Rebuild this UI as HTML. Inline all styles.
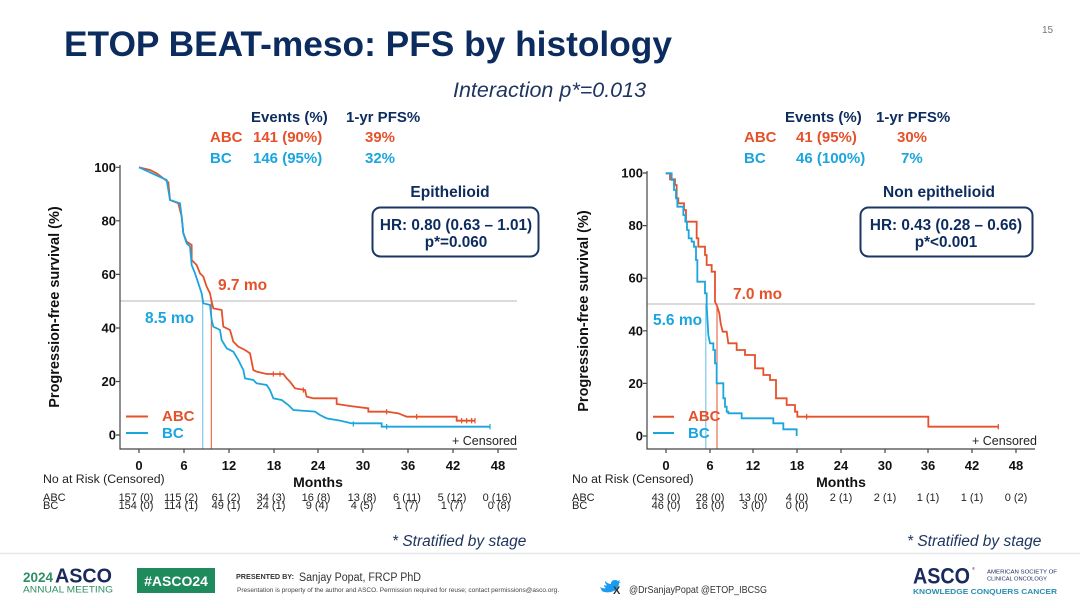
<!DOCTYPE html>
<html><head><meta charset="utf-8"><style>
html,body{margin:0;padding:0;background:#fff;}
svg{display:block;font-family:"Liberation Sans",Arial,sans-serif;}
</style></head><body>
<svg width="1080" height="608" viewBox="0 0 1080 608" xmlns="http://www.w3.org/2000/svg">
<rect width="1080" height="608" fill="#fff"/>
<!-- Title -->
<text x="64" y="56" font-size="35.3" font-weight="bold" fill="#0c2b5e">ETOP BEAT-meso: PFS by histology</text>
<text x="1042" y="33" font-size="10" fill="#777">15</text>
<text x="453" y="97" font-size="21.5" font-style="italic" fill="#1f3560">Interaction p*=0.013</text>

<!-- Left events table -->
<g font-size="15" font-weight="bold">
<text x="251" y="122" fill="#0c2b5e">Events (%)</text>
<text x="346" y="122" fill="#0c2b5e">1-yr PFS%</text>
<text x="210" y="142" fill="#e5512b">ABC</text>
<text x="253" y="142" fill="#e5512b">141 (90%)</text>
<text x="365" y="142" fill="#e5512b">39%</text>
<text x="210" y="163" fill="#1ba5de">BC</text>
<text x="253" y="163" fill="#1ba5de">146 (95%)</text>
<text x="365" y="163" fill="#1ba5de">32%</text>
<!-- Right events table -->
<text x="785" y="122" fill="#0c2b5e">Events (%)</text>
<text x="876" y="122" fill="#0c2b5e">1-yr PFS%</text>
<text x="744" y="142" fill="#e5512b">ABC</text>
<text x="796" y="142" fill="#e5512b">41 (95%)</text>
<text x="897" y="142" fill="#e5512b">30%</text>
<text x="744" y="163" fill="#1ba5de">BC</text>
<text x="796" y="163" fill="#1ba5de">46 (100%)</text>
<text x="901" y="163" fill="#1ba5de">7%</text>
</g>

<!-- ================= LEFT CHART ================= -->
<line x1="120" y1="301" x2="517" y2="301" stroke="#c4c4c4" stroke-width="1.2"/>
<line x1="202.7" y1="301" x2="202.7" y2="449" stroke="#7cc8ea" stroke-width="1.2"/>
<line x1="211.3" y1="301" x2="211.3" y2="449" stroke="#e5512b" stroke-width="1"/>
<g stroke="#444" stroke-width="1.2" fill="none">
<path d="M120,165 V449 H517"/>
<path d="M116,167.3H120M116,220.8H120M116,274.4H120M116,328H120M116,381.5H120M116,435H120"/>
<path d="M139,449V453M184,449V453M229,449V453M274,449V453M318,449V453M363,449V453M408,449V453M453,449V453M498,449V453"/>
</g>
<g font-size="13" font-weight="bold" fill="#111" text-anchor="end">
<text x="116" y="172">100</text><text x="116" y="225.5">80</text><text x="116" y="279">60</text>
<text x="116" y="332.5">40</text><text x="116" y="386">20</text><text x="116" y="439.5">0</text>
</g>
<text transform="translate(59,307) rotate(-90)" font-size="14.5" font-weight="bold" fill="#111" text-anchor="middle">Progression-free survival (%)</text>
<g font-size="13" font-weight="bold" fill="#111" text-anchor="middle">
<text x="139" y="470">0</text><text x="184" y="470">6</text><text x="229" y="470">12</text><text x="274" y="470">18</text><text x="318" y="470">24</text><text x="363" y="470">30</text><text x="408" y="470">36</text><text x="453" y="470">42</text><text x="498" y="470">48</text>
<text x="318" y="487" font-size="14">Months</text>
</g>
<g transform="translate(40,150) scale(0.33333)" fill="none" stroke-width="1.8">
<path vector-effect="non-scaling-stroke" stroke="#e5512b" d="M297,52 L330,60 L350,70 L370,85 L385,97 L390,150 L415,160 L425,200 L430,250 L440,275 L455,285 L455,330 L470,345 L480,370 L490,380 L500,410 L510,430 L515,455 L520,475 L545,480 L550,530 L570,540 L580,575 L595,590 L615,600 L630,610 L640,660 L650,665 L680,672 L730,672 L740,685 L750,695 L765,715 L795,720 L800,740 L820,745 H890 V762 L930,768 L985,775 V785 H1040 L1075,790 L1100,800 H1250 V812 H1305"/>
<path vector-effect="non-scaling-stroke" stroke="#1ba5de" d="M297,52 L380,90 L390,150 L420,160 L425,200 L430,250 L440,280 L450,290 L455,345 L465,370 L475,400 L485,430 L490,460 L510,465 L515,510 L520,530 L540,540 L545,570 L560,595 L580,605 L595,630 L610,660 L615,685 L640,690 L650,700 L680,705 L690,720 L700,745 L725,750 L745,765 L760,780 L825,785 L840,795 L860,805 L900,812 L935,820 H1025 V830 H1350"/>
<path vector-effect="non-scaling-stroke" stroke="#e5512b" stroke-width="1.2" d="M700,664V680M720,664V680M790,712V728M1040,777V793M1130,792V808M1265,804V820M1280,804V820M1295,804V820M1305,804V820"/>
<path vector-effect="non-scaling-stroke" stroke="#1ba5de" stroke-width="1.2" d="M940,814V830M1040,822V838M1350,822V838"/>
</g>
<g font-size="15.5" font-weight="bold">
<text x="218" y="290" fill="#e5512b">9.7 mo</text>
<text x="145" y="323" fill="#1ba5de">8.5 mo</text>
<text x="450" y="197" fill="#0c2b5e" text-anchor="middle">Epithelioid</text>
</g>
<rect x="372.5" y="207.5" width="166" height="49" rx="8" fill="#fff" stroke="#1b3565" stroke-width="2"/>
<g font-size="15.3" font-weight="bold" fill="#0c2b5e" text-anchor="middle">
<text x="456" y="230">HR: 0.80 (0.63 – 1.01)</text>
<text x="456" y="247">p*=0.060</text>
</g>
<line x1="126" y1="416.5" x2="148" y2="416.5" stroke="#e5512b" stroke-width="2"/>
<line x1="126" y1="433" x2="148" y2="433" stroke="#1ba5de" stroke-width="2"/>
<text x="162" y="421" font-size="15" font-weight="bold" fill="#e5512b">ABC</text>
<text x="162" y="438" font-size="15" font-weight="bold" fill="#1ba5de">BC</text>
<text x="452" y="445" font-size="12.5" fill="#222">+ Censored</text>

<!-- Left at risk -->
<text x="43" y="483" font-size="12.3" fill="#222">No at Risk (Censored)</text>
<g font-size="11" fill="#222">
<text x="43" y="501">ABC</text><text x="43" y="509">BC</text>
</g>
<g font-size="11" fill="#222" text-anchor="middle">
<text x="136" y="501">157 (0)</text><text x="181" y="501">115 (2)</text><text x="226" y="501">61 (2)</text><text x="271" y="501">34 (3)</text><text x="316" y="501">16 (8)</text><text x="362" y="501">13 (8)</text><text x="407" y="501">6 (11)</text><text x="452" y="501">5 (12)</text><text x="497" y="501">0 (16)</text>
<text x="136" y="509">154 (0)</text><text x="181" y="509">114 (1)</text><text x="226" y="509">49 (1)</text><text x="271" y="509">24 (1)</text><text x="317" y="509">9 (4)</text><text x="362" y="509">4 (5)</text><text x="407" y="509">1 (7)</text><text x="452" y="509">1 (7)</text><text x="499" y="509">0 (8)</text>
</g>
<text x="392" y="546" font-size="15.5" font-style="italic" fill="#1f3560">* Stratified by stage</text>

<!-- ================= RIGHT CHART ================= -->
<line x1="647" y1="304" x2="1035" y2="304" stroke="#c4c4c4" stroke-width="1.2"/>
<line x1="705.8" y1="304" x2="705.8" y2="449" stroke="#7cc8ea" stroke-width="1.2"/>
<line x1="717" y1="304" x2="717" y2="449" stroke="#e5512b" stroke-width="1"/>
<g stroke="#444" stroke-width="1.2" fill="none">
<path d="M647,171 V449 H1035"/>
<path d="M643,173H647M643,225.6H647M643,278.2H647M643,330.8H647M643,383.4H647M643,436H647"/>
<path d="M666,449V453M710,449V453M753,449V453M797,449V453M841,449V453M885,449V453M928,449V453M972,449V453M1016,449V453"/>
</g>
<g font-size="13" font-weight="bold" fill="#111" text-anchor="end">
<text x="643" y="177.5">100</text><text x="643" y="230">80</text><text x="643" y="282.7">60</text>
<text x="643" y="335.3">40</text><text x="643" y="388">20</text><text x="643" y="440.5">0</text>
</g>
<text transform="translate(588,311) rotate(-90)" font-size="14.5" font-weight="bold" fill="#111" text-anchor="middle">Progression-free survival (%)</text>
<g font-size="13" font-weight="bold" fill="#111" text-anchor="middle">
<text x="666" y="470">0</text><text x="710" y="470">6</text><text x="753" y="470">12</text><text x="797" y="470">18</text><text x="841" y="470">24</text><text x="885" y="470">30</text><text x="928" y="470">36</text><text x="972" y="470">42</text><text x="1016" y="470">48</text>
<text x="841" y="487" font-size="14">Months</text>
</g>
<g transform="translate(560,150) scale(0.33333)" fill="none" stroke-width="1.8">
<path vector-effect="non-scaling-stroke" stroke="#e5512b" d="M317,70 H330 V88 H345 V105 H350 V145 H355 V160 H372 V180 H378 V215 H410 V265 H415 V290 H435 V315 H440 V345 H455 V365 H465 V455 L472,470 L478,490 L482,520 L488,545 H500 L505,580 H530 V600 H555 V615 H585 V655 H610 V675 H630 V690 H648 V745 H680 V765 H705 V785 H712 V800 H1105 V830 H1315"/>
<path vector-effect="non-scaling-stroke" stroke="#1ba5de" d="M317,70 H335 V90 H342 V120 H348 V145 H352 V170 H370 V195 H376 V215 H381 V240 H386 V265 H395 V275 H402 V290 H408 V330 H412 V395 H435 V430 H440 V465 L445,555 L450,580 H460 V600 H465 V640 H470 V700 H490 V745 H495 V770 H500 V785 H505 V790 H545 V805 H640 V820 H670 V838 H710 V858"/>
<path vector-effect="non-scaling-stroke" stroke="#e5512b" stroke-width="1.2" d="M740,792V808M1315,822V838"/>
</g>
<g font-size="15.5" font-weight="bold">
<text x="733" y="299" fill="#e5512b">7.0 mo</text>
<text x="653" y="325" fill="#1ba5de">5.6 mo</text>
<text x="939" y="197" fill="#0c2b5e" text-anchor="middle">Non epithelioid</text>
</g>
<rect x="860.5" y="207.5" width="172" height="49" rx="8" fill="#fff" stroke="#1b3565" stroke-width="2"/>
<g font-size="15.3" font-weight="bold" fill="#0c2b5e" text-anchor="middle">
<text x="946" y="230">HR: 0.43 (0.28 – 0.66)</text>
<text x="946" y="247">p*&lt;0.001</text>
</g>
<line x1="653" y1="416.7" x2="674" y2="416.7" stroke="#e5512b" stroke-width="2"/>
<line x1="653" y1="433" x2="674" y2="433" stroke="#1ba5de" stroke-width="2"/>
<text x="688" y="421" font-size="15" font-weight="bold" fill="#e5512b">ABC</text>
<text x="688" y="438" font-size="15" font-weight="bold" fill="#1ba5de">BC</text>
<text x="972" y="445" font-size="12.5" fill="#222">+ Censored</text>

<!-- Right at risk -->
<text x="572" y="483" font-size="12.3" fill="#222">No at Risk (Censored)</text>
<g font-size="11" fill="#222">
<text x="572" y="501">ABC</text><text x="572" y="509">BC</text>
</g>
<g font-size="11" fill="#222" text-anchor="middle">
<text x="666" y="501">43 (0)</text><text x="710" y="501">28 (0)</text><text x="753" y="501">13 (0)</text><text x="797" y="501">4 (0)</text><text x="841" y="501">2 (1)</text><text x="885" y="501">2 (1)</text><text x="928" y="501">1 (1)</text><text x="972" y="501">1 (1)</text><text x="1016" y="501">0 (2)</text>
<text x="666" y="509">46 (0)</text><text x="710" y="509">16 (0)</text><text x="753" y="509">3 (0)</text><text x="797" y="509">0 (0)</text>
</g>
<text x="907" y="546" font-size="15.5" font-style="italic" fill="#1f3560">* Stratified by stage</text>

<!-- Footer -->
<line x1="0" y1="553.5" x2="1080" y2="553.5" stroke="#e3e8e8" stroke-width="1.5"/>
<text x="23" y="582" font-size="13.5" font-weight="bold" fill="#2f8f63">2024</text>
<text x="55" y="582.5" font-size="20" font-weight="bold" fill="#1b2a5c" textLength="57" lengthAdjust="spacingAndGlyphs">ASCO</text>
<text x="23" y="592.5" font-size="9.3" fill="#2f8f63" textLength="90" lengthAdjust="spacingAndGlyphs">ANNUAL MEETING</text>
<rect x="137" y="568" width="78" height="25" fill="#1f8a5b"/>
<text x="176" y="586" font-size="14" font-weight="bold" fill="#fff" text-anchor="middle">#ASCO24</text>
<text x="236" y="579" font-size="7" font-weight="bold" fill="#333" textLength="58" lengthAdjust="spacingAndGlyphs">PRESENTED BY:</text>
<text x="299" y="581" font-size="11.5" fill="#333" textLength="122" lengthAdjust="spacingAndGlyphs">Sanjay Popat, FRCP PhD</text>
<text x="237" y="592" font-size="6.5" fill="#444" textLength="322" lengthAdjust="spacingAndGlyphs">Presentation is property of the author and ASCO. Permission required for reuse; contact permissions@asco.org.</text>
<path d="M600,587 q3,2 6,1 q-2,-1 -2,-3 q2,1 3,0 q-2,-1 -2,-4 q3,3 6,3 q0,-4 4,-4 q2,0 3,1 l2,-1 l-1,2 l2,0 l-2,1 q0,7 -8,9 q-6,1 -9,-1 z" fill="#1d9bf0"/>
<text x="613" y="594" font-size="11" font-weight="bold" fill="#333">X</text>
<text x="629" y="593" font-size="10.5" fill="#333" textLength="138" lengthAdjust="spacingAndGlyphs">@DrSanjayPopat @ETOP_IBCSG</text>
<text x="913" y="583.5" font-size="22" font-weight="bold" fill="#1b2a5c" textLength="57" lengthAdjust="spacingAndGlyphs">ASCO</text>
<text x="972" y="570" font-size="4" fill="#1b2a5c">®</text>
<text x="987" y="573.5" font-size="5.5" fill="#1b2a5c" textLength="70" lengthAdjust="spacingAndGlyphs">AMERICAN SOCIETY OF</text>
<text x="987" y="580.5" font-size="5.5" fill="#1b2a5c" textLength="60" lengthAdjust="spacingAndGlyphs">CLINICAL ONCOLOGY</text>
<text x="913" y="594" font-size="7.5" font-weight="bold" fill="#2a8fb0" textLength="144" lengthAdjust="spacingAndGlyphs">KNOWLEDGE CONQUERS CANCER</text>
</svg>
</body></html>
